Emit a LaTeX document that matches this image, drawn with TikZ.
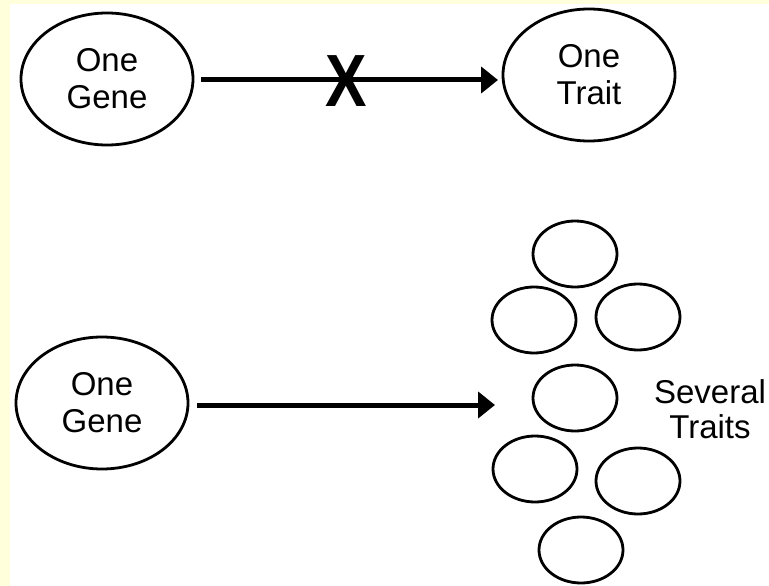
\documentclass[tikz,border=0pt]{standalone}
\usepackage{fontspec}
\setmainfont{Liberation Sans}
\usetikzlibrary{shapes.geometric,arrows.meta}
\definecolor{cream}{RGB}{255,255,220}
\begin{document}
\begin{tikzpicture}[x=1pt,y=-1pt,
  big/.style={ellipse,draw=black,line width=2.8pt,inner sep=0pt,
    minimum width=172pt,minimum height=132pt,align=center,
    font=\fontsize{33}{37}\selectfont},
  small/.style={ellipse,draw=black,line width=2.8pt,inner sep=0pt,
    minimum width=84pt,minimum height=66pt},
  arr/.style={line width=5pt,-{Triangle[length=17pt,width=26pt]}},
  lbl/.style={align=center,font=\fontsize{33}{35}\selectfont}]
\useasboundingbox (0,0) rectangle (769,586);
\fill[cream] (0,0) rectangle (769,586);
\fill[white] (10,4) rectangle (769,586);
% top row
\node[big] (g1) at (107,79) {One\\Gene};
\node[big] (t1) at (589,75) {One\\Trait};
\coordinate (s1) at (201,80);
\coordinate (e1) at (498,80);
\draw[arr] (s1) -- (e1);
\node[font=\fontsize{74}{74}\selectfont\bfseries,xscale=0.84,inner sep=0pt] (x) at (346,81) {X};
% bottom row
\node[big] (g2) at (102,403) {One\\Gene};
\coordinate (s2) at (197,405);
\coordinate (e2) at (495,405);
\draw[arr] (s2) -- (e2);
\node[small] (a) at (575,254) {};
\node[small] (b) at (534,320) {};
\node[small] (c) at (638,317) {};
\node[small] (d) at (575,398) {};
\node[small] (e) at (535,469) {};
\node[small] (f) at (638,481) {};
\node[small] (g) at (581,550) {};
\node[lbl] (st) at (710,409) {Several\\Traits};
\end{tikzpicture}
\end{document}
